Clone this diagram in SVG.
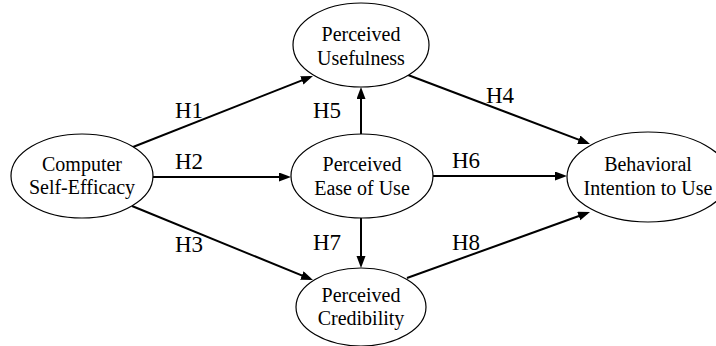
<svg xmlns="http://www.w3.org/2000/svg" width="716" height="346" viewBox="0 0 716 346">
<style>
.node ellipse{fill:#fff;stroke:#000;stroke-width:1.2}
.node text{font-family:"Liberation Serif","Times New Roman",serif;font-size:20px;fill:#000;text-anchor:middle}
.edges line{stroke:#000;stroke-width:2;marker-end:url(#arr)}
.lbl{font-family:"Liberation Serif","Times New Roman",serif;font-size:23px;fill:#000}
</style>
<defs>
<marker id="arr" markerUnits="userSpaceOnUse" markerWidth="13" markerHeight="10" refX="9" refY="4.5" orient="auto">
<path d="M0,0 L12,4.5 L0,9 z" fill="#000"/>
</marker>
</defs>
<rect width="716" height="346" fill="#fff"/>
<g class="edges">
<line x1="133" y1="147" x2="310.2" y2="77.1"/>
<line x1="153" y1="177" x2="288" y2="177"/>
<line x1="132" y1="206" x2="310.2" y2="278.9"/>
<line x1="408" y1="75" x2="587.2" y2="142.9"/>
<line x1="361" y1="134" x2="361" y2="90"/>
<line x1="433" y1="176" x2="564" y2="176"/>
<line x1="361" y1="218" x2="361" y2="265"/>
<line x1="407" y1="278" x2="587.2" y2="213"/>
</g>
<g id="labels">
<text class="lbl" x="175" y="118">H1</text>
<text class="lbl" x="175" y="169">H2</text>
<text class="lbl" x="175" y="252">H3</text>
<text class="lbl" x="486" y="103">H4</text>
<text class="lbl" x="313" y="118">H5</text>
<text class="lbl" x="452" y="168">H6</text>
<text class="lbl" x="313" y="250">H7</text>
<text class="lbl" x="452" y="250">H8</text>
</g>
<g id="cse" class="node">
<ellipse cx="82" cy="176" rx="71" ry="42"/>
<text x="82" y="171">Computer</text>
<text x="82" y="194">Self-Efficacy</text>
</g>
<g id="pu" class="node">
<ellipse cx="361" cy="45" rx="68" ry="42"/>
<text x="361" y="41">Perceived</text>
<text x="361" y="65">Usefulness</text>
</g>
<g id="peou" class="node">
<ellipse cx="362" cy="176" rx="71" ry="42"/>
<text x="362" y="171">Perceived</text>
<text x="362" y="195">Ease of Use</text>
</g>
<g id="pc" class="node">
<ellipse cx="361" cy="307" rx="65" ry="39"/>
<text x="361" y="302">Perceived</text>
<text x="361" y="325">Credibility</text>
</g>
<g id="bi" class="node">
<ellipse cx="648" cy="177" rx="81" ry="45"/>
<text x="648" y="171">Behavioral</text>
<text x="648" y="195">Intention to Use</text>
</g>
</svg>
